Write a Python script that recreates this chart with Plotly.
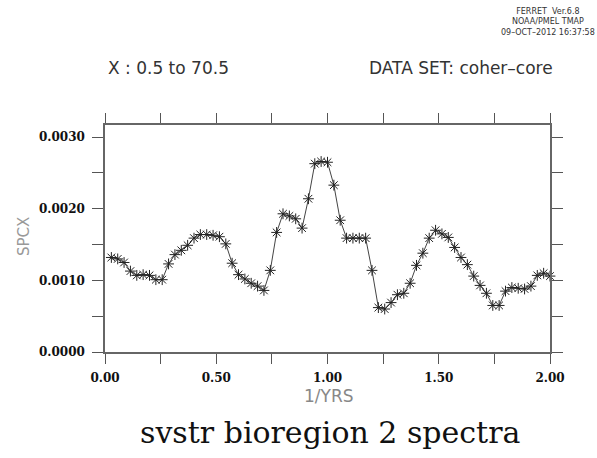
import plotly.graph_objects as go

# frequency axis: 70 points, 1/YRS
freq = [i / 35 for i in range(1, 71)]
spcx = [
    0.00132, 0.00130, 0.00125, 0.00113, 0.00107, 0.00108, 0.00107, 0.00101, 0.00101, 0.00123,
    0.00136, 0.00142, 0.00149, 0.00159, 0.00164, 0.00164, 0.00163, 0.00161, 0.00151, 0.00124,
    0.00108, 0.00102, 0.00096, 0.00092, 0.00086, 0.00114, 0.00167, 0.00193, 0.00190, 0.00186,
    0.00173, 0.00214, 0.00263, 0.00266, 0.00265, 0.00233, 0.00184, 0.00159, 0.00159, 0.00159,
    0.00159, 0.00114, 0.00062, 0.00060, 0.00069, 0.00080, 0.00082, 0.00096, 0.00121, 0.00138,
    0.00159, 0.00170, 0.00165, 0.00160, 0.00146, 0.00132, 0.00122, 0.00106, 0.00093, 0.00082,
    0.00065, 0.00065, 0.00085, 0.00090, 0.00089, 0.00088, 0.00092, 0.00107, 0.00110, 0.00106,
]

x_tickvals = [0, 0.25, 0.5, 0.75, 1.0, 1.25, 1.5, 1.75, 2.0]
x_ticktext = ["0.00", "", "0.50", "", "1.00", "", "1.50", "", "2.00"]
y_tickvals = [0, 0.0005, 0.001, 0.0015, 0.002, 0.0025, 0.003]
y_ticktext = ["0.0000", "", "0.0010", "", "0.0020", "", "0.0030"]

W, H = 597, 458
L, R, T, B = 105, 47, 125, 106
PW, PH = W - L - R, H - T - B


def px(x):
    return (x - L) / PW


def py(y):
    return (H - B - y) / PH


fig = go.Figure()
fig.add_trace(go.Scatter(
    x=freq, y=spcx, mode="lines+markers",
    line=dict(color="#444444", width=1),
    marker=dict(symbol="asterisk-open", size=9, color="#222222",
                line=dict(color="#222222", width=1)),
    showlegend=False, cliponaxis=False,
))

tickfont = dict(family="DejaVu Serif", size=12, color="#111111", weight="bold")
fig.update_xaxes(
    range=[0, 2.0], tickvals=x_tickvals, ticktext=x_ticktext,
    ticks="outside", ticklen=10, tickwidth=1, tickcolor="#555555",
    showline=True, linecolor="#666666", linewidth=1.5, mirror="ticks",
    showgrid=False, zeroline=False, tickfont=tickfont, ticklabelstandoff=4,
)
fig.update_yaxes(
    range=[0, 0.00317], tickvals=y_tickvals, ticktext=y_ticktext,
    ticks="outside", ticklen=11, tickwidth=1, tickcolor="#555555",
    showline=True, linecolor="#666666", linewidth=1.5, mirror="ticks",
    showgrid=False, zeroline=False, tickfont=tickfont, ticklabelstandoff=5,
)

sans = "DejaVu Sans"
ann = [
    dict(text="X : 0.5 to 70.5", x=px(106), y=py(68), xanchor="left", yanchor="middle",
         font=dict(family=sans, size=17, color="#333333")),
    dict(text="DATA SET: coher\u2013core", x=px(367), y=py(68), xanchor="left", yanchor="middle",
         font=dict(family=sans, size=17, color="#333333")),
    dict(text="FERRET  Ver.6.8<br>NOAA/PMEL TMAP<br>09\u2013OCT\u20132012 16:37:58",
         x=px(548), y=py(22), xanchor="center", yanchor="middle", align="center",
         font=dict(family=sans, size=8, color="#333333")),
    dict(text="SPCX", x=px(24), y=py(237), xanchor="center", yanchor="middle", textangle=-90,
         font=dict(family=sans, size=15, color="#999999")),
    dict(text="1/YRS", x=px(329), y=py(396), xanchor="center", yanchor="middle",
         font=dict(family=sans, size=17, color="#888888")),
    dict(text="svstr bioregion 2 spectra", x=px(330), y=py(432), xanchor="center", yanchor="middle",
         font=dict(family="DejaVu Serif", size=30, color="#111111")),
]
for a in ann:
    a.update(xref="paper", yref="paper", showarrow=False)
fig.update_layout(
    width=W, height=H, margin=dict(l=L, r=R, t=T, b=B, pad=0),
    paper_bgcolor="white", plot_bgcolor="white", annotations=ann,
)

fig.write_html("out.html")
